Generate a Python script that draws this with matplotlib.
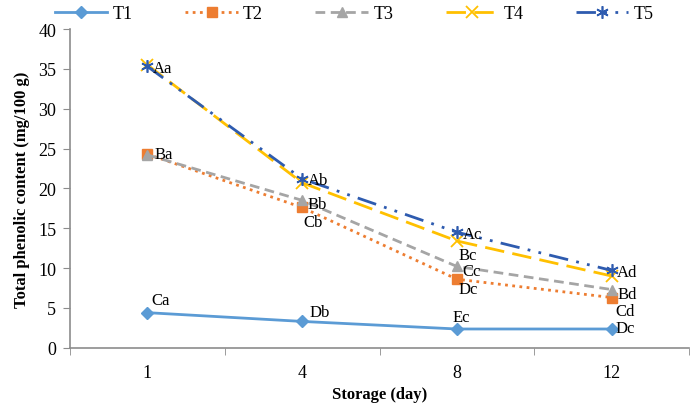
import numpy as np
import matplotlib.pyplot as plt

# Total phenolic content over storage
days = ['1', '4', '8', '12']
T1 = [4.4, 3.3, 2.35, 2.35]
T2 = [24.3, 17.6, 8.6, 6.3]
T3 = [24.2, 18.5, 10.2, 7.3]
T4 = [35.5, 20.7, 13.4, 9.0]
T5 = [35.3, 21.2, 14.5, 9.7]

# significance letters per point
T1_txt = ['Ca', 'Db', 'Ec', 'Dc']
T2_txt = ['Ba', 'Cb', 'Dc', 'Cd']
T3_txt = ['', 'Bb', 'Cc', 'Bd']
T4_txt = ['', '', 'Bc', '']
T5_txt = ['Aa', 'Ab', 'Ac', 'Ad']

plt.rcParams['font.family'] = ['Liberation Serif', 'DejaVu Serif']

fig = plt.figure(figsize=(6.92, 4.06), dpi=100)
ax = fig.add_axes([0.1012, 0.1411, 0.8945, 0.7849])

x = np.arange(len(days))
lw = 2.0
ax.plot(x, T1, color='#5B9BD5', lw=lw, ls='-', marker='D', ms=6, label='T1')
ax.plot(x, T2, color='#ED7D31', lw=lw, ls=(0, (1, 1.6)), marker='s', ms=7, label='T2')
ax.plot(x, T3, color='#A5A5A5', lw=lw, ls=(0, (3.5, 2)), marker='^', ms=7, label='T3')
ax.plot(x, T4, color='#FFC000', lw=lw, ls=(0, (7, 3)), marker='x', ms=8, mew=1.3, label='T4')
ax.plot(x, T5, color='#2E5BAF', lw=lw, ls=(0, (7, 3, 1, 3, 1, 3)), marker=(6, 2, 0), ms=9, mew=1.2, label='T5')

fs = 12
# labels to the right of the point
for i, t in enumerate(T5_txt):
    ax.annotate(t, (x[i], T5[i]), xytext=(4, -1), textcoords='offset points', fontsize=fs, va='center')
ax.annotate(T2_txt[0], (x[0], T2[0]), xytext=(5, 0), textcoords='offset points', fontsize=fs, va='center')
ax.annotate(T2_txt[1], (x[1], T2[1]), xytext=(1, -5), textcoords='offset points', fontsize=fs, va='top')
ax.annotate(T2_txt[2], (x[2], T2[2]), xytext=(1, -1), textcoords='offset points', fontsize=fs, va='top')
ax.annotate(T2_txt[3], (x[3], T2[3]), xytext=(3, -4), textcoords='offset points', fontsize=fs, va='top')
for i in range(1, 4):
    ax.annotate(T3_txt[i], (x[i], T3[i]), xytext=(4, -3), textcoords='offset points', fontsize=fs, va='center')
ax.annotate(T4_txt[2], (x[2], T4[2]), xytext=(1, -4), textcoords='offset points', fontsize=fs, va='top')
ax.annotate(T1_txt[0], (x[0], T1[0]), xytext=(3, 3), textcoords='offset points', fontsize=fs, va='bottom')
ax.annotate(T1_txt[1], (x[1], T1[1]), xytext=(5, 1), textcoords='offset points', fontsize=fs, va='bottom')
ax.annotate(T1_txt[2], (x[2], T1[2]), xytext=(-3, 3), textcoords='offset points', fontsize=fs, va='bottom')
ax.annotate(T1_txt[3], (x[3], T1[3]), xytext=(3, 1), textcoords='offset points', fontsize=fs, va='center')

ax.set_xlim(-0.5, len(days) - 0.5)
ax.set_ylim(0, 40)
ax.set_yticks(np.arange(0, 41, 5))
ax.set_xticks(x)
ax.set_xticklabels(days)
ax.set_xticks(np.arange(-0.5, len(days), 1), minor=True)
ax.tick_params(axis='x', which='major', length=0, pad=12, labelsize=13)
ax.tick_params(axis='x', which='minor', length=5, color='#8C8C8C')
ax.tick_params(axis='y', length=5, color='#8C8C8C', labelsize=13, pad=5)

for s in ['top', 'right']:
    ax.spines[s].set_visible(False)
for s in ['left', 'bottom']:
    ax.spines[s].set_color('#8C8C8C')
    ax.spines[s].set_linewidth(1.2)

ax.set_xlabel('Storage (day)', fontsize=12, fontweight='bold', labelpad=3)
ax.set_ylabel('Total phenolic content (mg/100 g)', fontsize=12, fontweight='bold', labelpad=6)

fig.legend(loc='upper center', bbox_to_anchor=(0.512, 1.025), ncol=5, frameon=False,
           fontsize=13, handlelength=2.9, columnspacing=2.9, handletextpad=0.3)

fig.savefig('out.png', dpi=100)
